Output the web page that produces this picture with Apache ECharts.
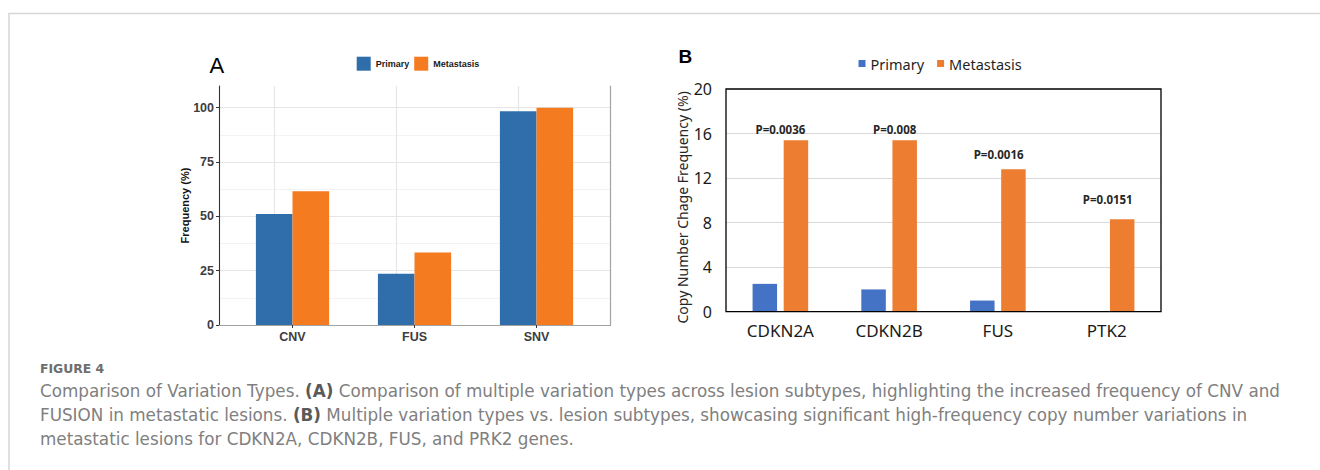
<!DOCTYPE html>
<html>
<head>
<meta charset="utf-8">
<script src="https://cdn.jsdelivr.net/npm/echarts@6/dist/echarts.min.js"></script>
<style>
  html, body { margin: 0; padding: 0; background: #fff; }
  #chart { width: 1320px; height: 470px; }
</style>
</head>
<body>
<div id="chart"></div>
<script>
// Panel A: frequency of each variation type by lesion subtype
const typeCategories = ['CNV', 'FUS', 'SNV'];
const typePrimary = [51.1, 23.6, 98.4];
const typeMetastasis = [61.6, 33.4, 100];
const typeTicks = [0, 25, 50, 75, 100];

// Panel B: copy number change frequency per gene
const geneCategories = ['CDKN2A', 'CDKN2B', 'FUS', 'PTK2'];
const genePrimary = [2.5, 2.0, 1.0, 0];
const geneMetastasis = [15.4, 15.4, 12.8, 8.3];
const genePValues = ['P=0.0036', 'P=0.008', 'P=0.0016', 'P=0.0151'];
const geneTicks = [0, 4, 8, 12, 16, 20];

// Placement of the P-value annotations above the metastasis bars (px)
const pLabelLift = [10.7, 10.7, 15, 19.7];
const pLabelShift = [-15.5, -10, -14.8, -14.4];

const colA = { primary: '#2f6eab', metastasis: '#f47b20' };
const colB = { primary: '#4472c4', metastasis: '#ed7d31' };
const sansA = '"Liberation Sans", Arial, sans-serif';
const sansB = '"Noto Sans", "Open Sans", sans-serif';
const sansCap = '"DejaVu Sans", sans-serif';

const aMax = 110;
const minorStep = (typeTicks[1] - typeTicks[0]) / 2;
const bMax = geneTicks[geneTicks.length - 1];
const bStep = geneTicks[1] - geneTicks[0];

const chart = echarts.init(document.getElementById('chart'), null, { renderer: 'svg' });

const hidden = { show: false };
const capSize = 16.8;
const capRich = { b: { fontWeight: 'bold', fontSize: capSize, fontFamily: sansCap, fill: '#5a5a5a' } };

const option = {
  animation: false,
  backgroundColor: '#fff',
  grid: [
    // panel A frame (ggplot panel)
    { left: 219, top: 86, width: 391, height: 239 },
    // panel A bars (discrete scale with padding)
    { left: 231.5, top: 86, width: 366, height: 239 },
    // panel B
    { left: 726, top: 89, width: 435, height: 222.7, show: true, z: 3,
      borderColor: '#000', borderWidth: 1.3, backgroundColor: 'transparent' }
  ],
  xAxis: [
    // 0: A bottom axis line
    { gridIndex: 0, type: 'value', min: 0, max: 1, position: 'bottom', z: 3,
      axisLine: { show: true, lineStyle: { color: '#333', width: 1.1 } },
      axisTick: hidden, axisLabel: hidden, splitLine: hidden },
    // 1: A top panel border
    { gridIndex: 0, type: 'value', min: 0, max: 1, position: 'top', z: 3,
      axisLine: { show: true, lineStyle: { color: '#a3a3a3', width: 1.2 } },
      axisTick: hidden, axisLabel: hidden, splitLine: hidden },
    // 2: A categories
    { gridIndex: 1, type: 'category', data: typeCategories, position: 'bottom', z: 3,
      axisLine: hidden,
      axisTick: { show: true, alignWithLabel: true, length: 3, lineStyle: { color: '#333' } },
      axisLabel: { margin: 5, fontSize: 12.5, fontWeight: 'bold', color: '#3d3d3d', fontFamily: sansA },
      splitLine: hidden },
    // 3: B categories
    { gridIndex: 2, type: 'category', data: geneCategories,
      axisLine: hidden, axisTick: hidden, splitLine: hidden,
      axisLabel: { margin: 10, fontSize: 17, color: '#1a1a1a', fontFamily: sansB } }
  ],
  yAxis: [
    // 0: A minor grid lines
    { gridIndex: 0, type: 'value', min: 0, max: aMax, interval: minorStep, z: 0,
      axisLine: hidden, axisTick: hidden, axisLabel: hidden,
      splitLine: { show: true, showMinLine: false, showMaxLine: false, lineStyle: { color: '#f3f3f3', width: 1 } } },
    // 1: A major grid lines
    { gridIndex: 0, type: 'value', min: 0, max: aMax, interval: typeTicks[1] - typeTicks[0], z: 0,
      axisLine: hidden, axisTick: hidden, axisLabel: hidden,
      splitLine: { show: true, showMinLine: false, showMaxLine: false, lineStyle: { color: '#e6e6e6', width: 1.2 } } },
    // 2: A left axis with labels
    { gridIndex: 0, type: 'value', min: 0, max: aMax, interval: typeTicks[1] - typeTicks[0], z: 3,
      position: 'left',
      name: 'Frequency (%)', nameLocation: 'middle', nameGap: 29, nameMoveOverlap: false,
      nameTextStyle: { fontSize: 11, fontWeight: 'bold', color: '#111', fontFamily: sansA },
      axisLine: { show: true, lineStyle: { color: '#333', width: 1.1 } },
      axisTick: { show: true, length: 3, customValues: typeTicks, lineStyle: { color: '#333' } },
      axisLabel: { margin: 5, customValues: typeTicks, fontSize: 12.5, fontWeight: 'bold', color: '#3d3d3d',
        fontFamily: sansA, formatter: v => (v > typeTicks[typeTicks.length - 1] ? '' : String(v)) },
      splitLine: hidden },
    // 3: A right panel border
    { gridIndex: 0, type: 'value', min: 0, max: aMax, position: 'right', z: 3,
      axisLine: { show: true, lineStyle: { color: '#a3a3a3', width: 1.2 } },
      axisTick: hidden, axisLabel: hidden, splitLine: hidden },
    // 4: A bar value scale
    { gridIndex: 1, type: 'value', min: 0, max: aMax, show: false },
    // 5: B value axis
    { gridIndex: 2, type: 'value', min: 0, max: bMax, interval: bStep,
      name: 'Copy Number Chage Frequency (%)', nameLocation: 'middle', nameGap: 37, nameMoveOverlap: false,
      nameTextStyle: { fontSize: 14, color: '#262626', fontFamily: sansB, padding: [0, 14, 0, 0] },
      axisLine: hidden, axisTick: hidden,
      axisLabel: { margin: 14, fontSize: 16, color: '#1a1a1a', fontFamily: sansB },
      splitLine: { show: true, showMinLine: false, showMaxLine: false, lineStyle: { color: '#d9d9d9', width: 1.2 } } }
  ],
  legend: [
    { data: ['A:Primary', 'A:Metastasis'], left: 356.7, top: 56.7, padding: 0,
      icon: 'rect', itemWidth: 14, itemHeight: 14, itemGap: 5,
      formatter: n => n.split(':')[1],
      textStyle: { fontSize: 9, fontWeight: 'bold', color: '#1a1a1a', fontFamily: sansA } },
    { data: ['B:Primary', 'B:Metastasis'], left: 858.5, top: 56, padding: 0,
      icon: 'rect', itemWidth: 7, itemHeight: 7, itemGap: 13,
      formatter: n => n.split(':')[1],
      textStyle: { fontSize: 14.5, lineHeight: 14, color: '#1f1f1f', fontFamily: sansB } }
  ],
  series: [
    {
      name: 'A:Primary', type: 'bar', xAxisIndex: 2, yAxisIndex: 4,
      data: typePrimary, barWidth: 36.6, barGap: '0%', z: 2,
      itemStyle: { color: colA.primary },
      markLine: {
        z: 1, silent: true, symbol: 'none', animation: false,
        label: { show: false },
        lineStyle: { color: '#e6e6e6', width: 1.2, type: 'solid' },
        data: typeCategories.map(c => ({ xAxis: c }))
      }
    },
    {
      name: 'A:Metastasis', type: 'bar', xAxisIndex: 2, yAxisIndex: 4,
      data: typeMetastasis, barWidth: 36.6, barGap: '0%', z: 2,
      itemStyle: { color: colA.metastasis }
    },
    {
      name: 'B:Primary', type: 'bar', xAxisIndex: 3, yAxisIndex: 5,
      data: genePrimary, barWidth: 24.5, barGap: '27%',
      itemStyle: { color: colB.primary }
    },
    {
      name: 'B:Metastasis', type: 'bar', xAxisIndex: 3, yAxisIndex: 5,
      barWidth: 24.5, barGap: '27%',
      itemStyle: { color: colB.metastasis },
      data: geneMetastasis.map((v, i) => ({
        value: v,
        label: { distance: pLabelLift[i], offset: [pLabelShift[i], 0] }
      })),
      label: {
        show: true, position: 'top', verticalAlign: 'middle',
        formatter: p => genePValues[p.dataIndex],
        fontSize: 11.5, fontWeight: 'bold', color: '#262626', fontFamily: sansB
      }
    }
  ],
  graphic: [
    // card outline
    { type: 'polyline', silent: true,
      shape: { points: [[9, 470], [9, 13.5], [1320, 13.5]] },
      style: { stroke: '#d6d6d6', lineWidth: 1.5, fill: null } },
    // panel letters
    { type: 'text', x: 209.5, y: 65.5, silent: true,
      style: { text: 'A', font: '22px ' + sansA, fill: '#000', verticalAlign: 'middle' } },
    { type: 'text', x: 678.5, y: 56.5, silent: true,
      style: { text: 'B', font: 'bold 19px ' + sansA, fill: '#000', verticalAlign: 'middle' } },
    // figure caption
    { type: 'text', x: 40, y: 368.5, silent: true,
      style: { text: 'FIGURE 4', font: 'bold 12.4px ' + sansCap, fill: '#6e6e6e', verticalAlign: 'middle' } },
    { type: 'text', x: 40, y: 391, silent: true,
      style: {
        text: 'Comparison of Variation Types. {b|(A)} Comparison of multiple variation types across lesion subtypes, highlighting the increased frequency of CNV and',
        font: capSize + 'px ' + sansCap, fill: '#808080', verticalAlign: 'middle', rich: capRich
      } },
    { type: 'text', x: 40, y: 414.5, silent: true,
      style: {
        text: 'FUSION in metastatic lesions. {b|(B)} Multiple variation types vs. lesion subtypes, showcasing significant high-frequency copy number variations in',
        font: capSize + 'px ' + sansCap, fill: '#808080', verticalAlign: 'middle', rich: capRich
      } },
    { type: 'text', x: 40, y: 438.5, silent: true,
      style: {
        text: 'metastatic lesions for CDKN2A, CDKN2B, FUS, and PRK2 genes.',
        font: capSize + 'px ' + sansCap, fill: '#808080', verticalAlign: 'middle'
      } }
  ]
};

chart.setOption(option);
</script>
</body>
</html>
